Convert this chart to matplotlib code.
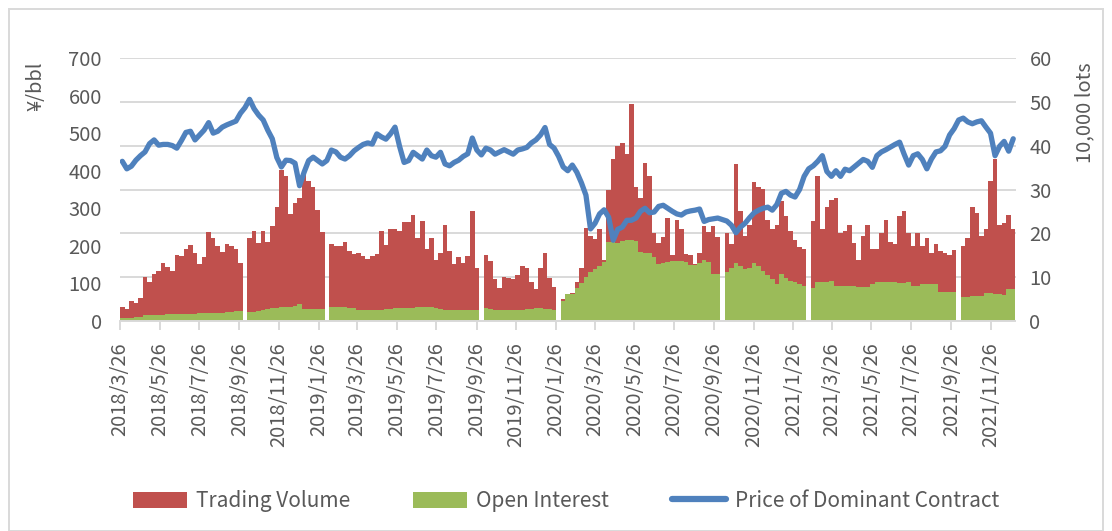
import matplotlib
matplotlib.use("Agg")
import matplotlib.pyplot as plt
import numpy as np
import pandas as pd
from matplotlib.patches import Patch, Rectangle
from matplotlib.lines import Line2D

plt.rcParams['font.family'] = ['Noto Sans CJK SC', 'DejaVu Sans']

# ---- data (weekly, starting 2018-03-26); None = holiday week with no trading ----
start_date = "2018-03-26"

trading_volume = [  # 10,000 lots
    3.2, 2.8, 4.5, 4.0, 5.2, 10, 9, 10.7, 11.5, 13.3,
    12.3, 11.3, 15, 14.8, 16.5, 17.4, 15.5, 13, 14.5, 20.3,
    19, 17, 15.8, 17.5, 17.2, 16.5, 13.3, None, 19, 20.5,
    17.8, 20.5, 18.1, 21.7, 26, 34.5, 33, 24.5, 27, 28,
    33.5, 32, 30.5, 25.3, 20.3, None, 17.5, 17.1, 17.1, 18,
    16, 15.2, 15.4, 14.8, 14.2, 14.9, 15.2, 20.6, 17.4, 21,
    21, 20.5, 22.6, 22.6, 24.2, 19, 22.9, 16.5, 19, 14,
    15.5, 21.9, 16, 13, 14.5, 13.3, 14.9, 25, 12, None,
    15.1, 13.7, 9.5, 7.6, 10, 9.8, 9.5, 10.5, 12.5, 12,
    9, 7.2, 12, 15.6, 9.9, 7.8, None, 5, 6.1, 6.3,
    9, 12, 21.3, 19.5, 18.7, 21, 14, 30, 37, 40,
    40.5, 38, 49.4, 30.5, 28, 36, 33, 20, 17.9, 19.2,
    23.5, 15, 23, 21, 15.2, 15.1, 13, 15.5, 21.7, 20.4,
    21.7, 19.2, None, 20, 17.5, 35.8, 25, 19.5, 22, 31.8,
    30.5, 30.1, 23, 21, 22, 27.4, 24, 20.5, 18.5, 16.8,
    16.4, None, 22.9, 33, 21, 26, 27.5, 28, 20, 20.5,
    22, 17.7, 14, 19.4, 22, 16.4, 16.5, 20, 23, 18,
    17.5, 24, 25, 20, 17, 20, 17, 19, 15.5, 17.5,
    16, 15.5, 15, 16.2, None, 17.1, 19, 25.9, 24.7, 19.5,
    21, 32, 37, 22, 22.3, 24.2, 21,
]

open_interest = [  # 10,000 lots
    0.6, 0.7, 0.6, 0.8, 0.8, 1.3, 1.4, 1.4, 1.4, 1.4,
    1.5, 1.5, 1.6, 1.6, 1.7, 1.7, 1.7, 1.8, 1.9, 1.9,
    1.9, 1.9, 1.9, 2.0, 2.1, 2.3, 2.3, None, 2.1, 2.1,
    2.3, 2.5, 2.8, 3.0, 3.0, 3.2, 3.2, 3.3, 3.5, 3.8,
    2.8, 2.7, 2.7, 2.7, 2.7, None, 3.2, 3.2, 3.2, 3.1,
    2.9, 2.9, 2.4, 2.4, 2.4, 2.4, 2.4, 2.5, 2.7, 2.7,
    3.0, 3.0, 3.0, 3.0, 3.0, 3.2, 3.2, 3.2, 3.1, 3.0,
    2.8, 2.5, 2.4, 2.4, 2.4, 2.4, 2.6, 2.6, 2.5, None,
    2.9, 2.8, 2.6, 2.5, 2.5, 2.5, 2.4, 2.5, 2.6, 2.7,
    2.8, 2.9, 2.9, 2.8, 2.7, 2.6, None, 4.5, 6.1, 6.1,
    7.5, 8.6, 10, 11.2, 11.9, 12.5, 13.5, 18, 18.1, 17.8,
    18.3, 18.4, 18.5, 18.3, 15.8, 15.6, 15.6, 14.5, 13, 13.3,
    13.5, 13.6, 13.7, 13.7, 13.5, 12.8, 12.8, 13.2, 13.9, 13.5,
    10.8, 10.8, None, 11.2, 12.2, 13.3, 12.6, 11.8, 12, 13.2,
    12.6, 11.5, 10.5, 9.5, 8.4, 10.7, 9.8, 9.1, 9, 8.5,
    8, None, 7.5, 8.8, 8.8, 8.8, 9.2, 8.0, 8.0, 8.0,
    8.0, 8.0, 7.8, 7.8, 7.8, 8.5, 8.8, 9.0, 9.0, 9.0,
    9.0, 8.6, 8.6, 9.0, 8.0, 8.0, 8.4, 8.4, 8.4, 8.4,
    6.7, 6.7, 6.7, 6.7, None, 5.5, 5.5, 5.7, 5.7, 5.7,
    6.3, 6.3, 6.2, 6.2, 6.0, 7.2, 7.2,
]

price = [  # yuan / bbl
    425, 405, 412, 428, 440, 450, 472, 482, 468, 470,
    470, 467, 460, 480, 502, 505, 482, 495, 508, 528,
    500, 505, 516, 522, 527, 532, 553, 568, 590, 565,
    548, 535, 508, 485, 435, 410, 428, 427, 420, 360,
    396, 427, 436, 427, 418, 427, 455, 450, 436, 431,
    440, 453, 462, 470, 474, 471, 498, 490, 484, 498,
    516, 465, 422, 427, 449, 440, 431, 455, 440, 436,
    449, 418, 413, 422, 428, 438, 445, 487, 455, 442,
    460, 455, 444, 450, 456, 450, 444, 455, 458, 462,
    474, 482, 495, 515, 470, 460, 438, 410, 400, 415,
    396, 368, 335, 245, 260, 285, 296, 276, 215, 244,
    250, 268, 268, 274, 292, 300, 288, 290, 305, 308,
    300, 292, 285, 282, 290, 293, 295, 298, 265, 270,
    272, 274, 270, 266, 255, 235, 250, 260, 275, 288,
    295, 300, 303, 295, 310, 340, 345, 335, 330, 350,
    385, 405, 413, 425, 440, 398, 385, 400, 385, 404,
    400, 410, 420, 430, 425, 409, 440, 450, 456, 463,
    470, 476, 444, 415, 440, 445, 430, 405, 431, 450,
    453, 465, 495, 512, 535, 540, 530, 525, 530, 533,
    516, 500, 440, 465, 478, 452, 485,
]

tick_labels = ["2018/3/26", "2018/5/26", "2018/7/26", "2018/9/26", "2018/11/26",
               "2019/1/26", "2019/3/26", "2019/5/26", "2019/7/26", "2019/9/26",
               "2019/11/26", "2020/1/26", "2020/3/26", "2020/5/26", "2020/7/26",
               "2020/9/26", "2020/11/26", "2021/1/26", "2021/3/26", "2021/5/26",
               "2021/7/26", "2021/9/26", "2021/11/26"]

series_names = ["Trading Volume", "Open Interest", "Price of Dominant Contract"]
left_label = "¥/bbl"
right_label = "10,000 lots"

# ---- styling ----
RED = "#C0504D"
GREEN = "#9BBB59"
BLUE = "#4F81BD"
GRID = "#D9D9D9"
TXT = "#595959"
FS = 14.5
LFS = 15

W, H = 1112, 531
fig = plt.figure(figsize=(W / 100, H / 100), dpi=100)

dates = pd.date_range(start_date, periods=len(price), freq="7D")
vol = np.array([np.nan if v is None else v for v in trading_volume], dtype=float)
oi = np.array([np.nan if v is None else v for v in open_interest], dtype=float)
pr = np.array(price, dtype=float)

x0_date = pd.Timestamp(start_date)
x1_date = pd.Timestamp("2022-01-03")

left_px, right_px, top_px, bot_px = 120, 1015.5, 58, 321
ax = fig.add_axes([left_px / W, 1 - bot_px / H, (right_px - left_px) / W, (bot_px - top_px) / H])
ax2 = ax.twinx()

mv = ~np.isnan(vol)
mo = ~np.isnan(oi)
ax2.bar(dates[mv], vol[mv], width=7, align="edge", color=RED, linewidth=0, zorder=2)
ax2.bar(dates[mo], oi[mo], width=7, align="edge", color=GREEN, linewidth=0, zorder=3)

ax.plot(dates + pd.Timedelta(days=3.5), pr, color=BLUE, lw=3.8, solid_capstyle="round",
        solid_joinstyle="round", zorder=5)

ax.set_zorder(ax2.get_zorder() + 1)
ax.patch.set_visible(False)

ax.set_ylim(0, 700)
ax2.set_ylim(0, 60)
ax.set_xlim(x0_date, x1_date)

ax.set_yticks(np.arange(0, 701, 100))
ax2.set_yticks(np.arange(0, 61, 10))
ax2.yaxis.grid(True, color=GRID, lw=1.4)
ax2.set_axisbelow(True)

for a in (ax, ax2):
    for s in a.spines.values():
        s.set_visible(False)

ax.spines["bottom"].set_visible(True)
ax.spines["bottom"].set_color(GRID)
ax.spines["bottom"].set_linewidth(1.4)

ax.set_xticks([pd.Timestamp(t.replace("/", "-")) for t in tick_labels])
ax.set_xticklabels(tick_labels, rotation=90, color=TXT, fontsize=FS, fontweight="light")
ax.tick_params(axis="x", direction="out", length=6.5, width=1.4, color=GRID, pad=9)

ax.tick_params(axis="y", length=0, pad=13, labelcolor=TXT, labelsize=FS)
ax2.tick_params(axis="y", length=0, pad=10, labelcolor=TXT, labelsize=FS)
for lbl in ax.get_yticklabels() + ax2.get_yticklabels():
    lbl.set_fontweight("light")

fig.text(36 / W, 1 - 86 / H, left_label, rotation=90, ha="center", va="center",
         color=TXT, fontsize=FS, fontweight="light")
fig.text(1085 / W, 1 - 113 / H, right_label, rotation=90, ha="center", va="center",
         color=TXT, fontsize=FS, fontweight="light")

handles = [Patch(facecolor=RED, edgecolor="none"),
           Patch(facecolor=GREEN, edgecolor="none"),
           Line2D([0], [0], color=BLUE, lw=4.5, solid_capstyle="round")]
leg = fig.legend(handles, series_names, loc="center", bbox_to_anchor=(566 / W, 1 - 501 / H),
                 ncol=3, frameon=False, fontsize=LFS, handlelength=2.6, handleheight=0.8,
                 handletextpad=0.45, columnspacing=3.0)
for t in leg.get_texts():
    t.set_color(TXT)
    t.set_fontweight("light")

# chart border
fig.patches.append(Rectangle((9 / W, 0.0), (W - 18) / W, 1 - 9 / H, transform=fig.transFigure,
                             fill=False, edgecolor=GRID, lw=1.4))

fig.savefig("out.png", dpi=100)
